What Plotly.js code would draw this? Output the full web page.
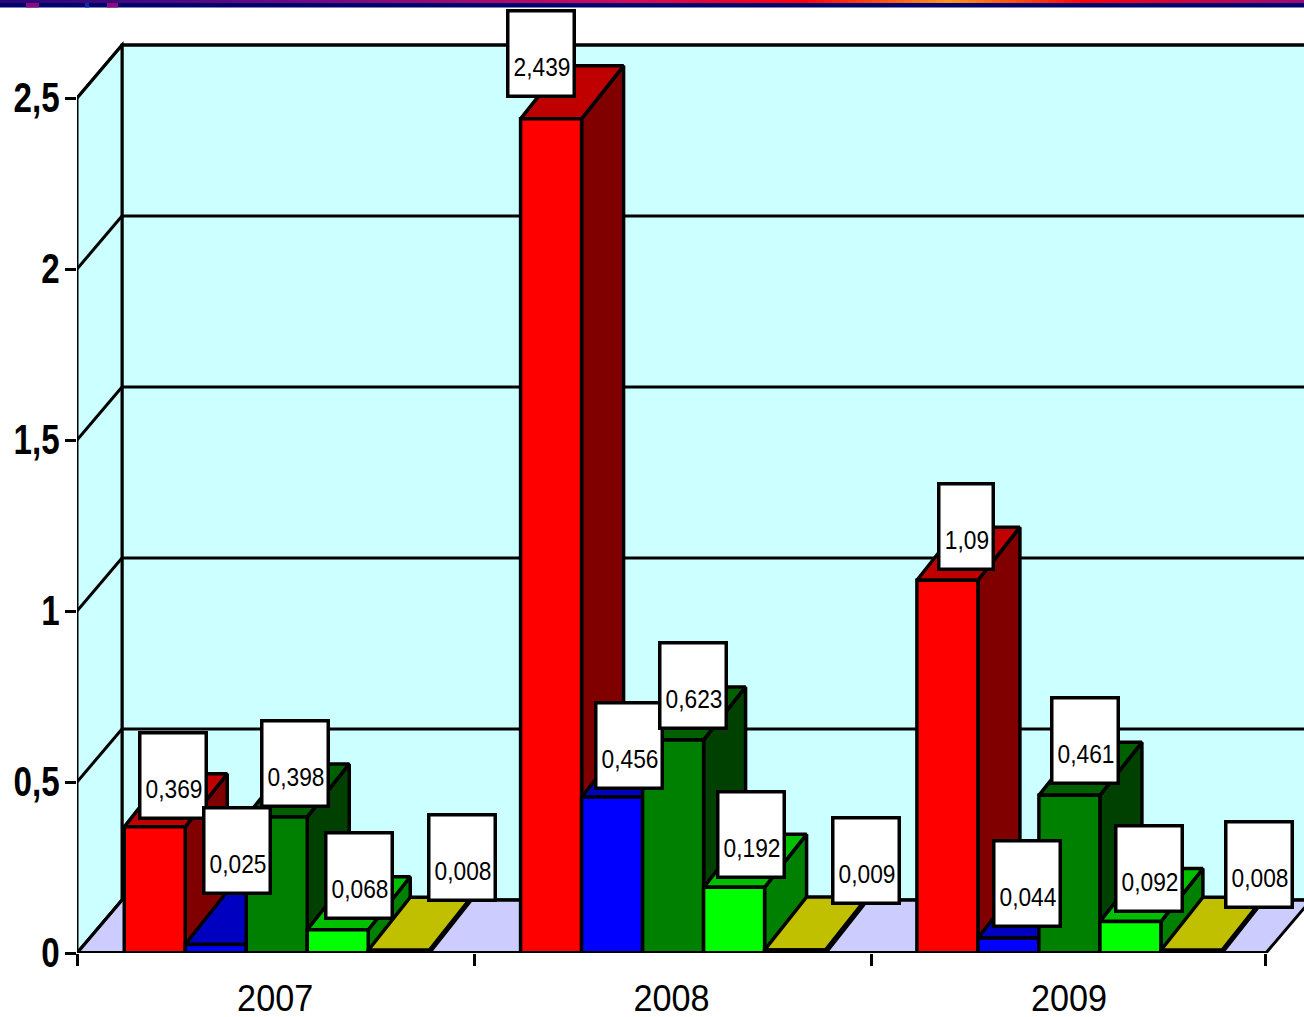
<!DOCTYPE html>
<html>
<head>
<meta charset="utf-8">
<script src="https://cdn.plot.ly/plotly-3.0.1.min.js"></script>
<style>
html, body { margin: 0; padding: 0; background: #fff; overflow: hidden; }
#chart { width: 1304px; height: 1017px; }
</style>
</head>
<body>
<div id="chart"></div>
<script>
// Yearly values, one list per bar colour
const years = ['2007', '2008', '2009'];
const redValues = [0.369, 2.439, 1.09];
const blueValues = [0.025, 0.456, 0.044];
const greenValues = [0.398, 0.623, 0.461];
const limeValues = [0.068, 0.192, 0.092];
const oliveValues = [0.008, 0.009, 0.008];
const yTicks = [0, 0.5, 1, 1.5, 2, 2.5];

// Pixel nudges of each value box from its bar top (hand placed boxes)
const boxShiftX = [[18, -10, 19], [21, 17, 19], [18, 20, 16], [21, 17, 19], [63, 71, 68]];
const boxShiftY = [[7, 21, 9], [49, 7, 10], [9, 10, 10], [10, 8, 9], [48, 45, 41]];

const W = 1304, H = 1017;
const plotLeft = 77, plotBottom = 953;
const pxPerYear = 396.33, pxPerUnit = 342;
const xMax = (W - plotLeft) / pxPerYear;
const yMax = plotBottom / pxPerUnit;

// Oblique projection of the box: room depth and bar depth in axis units
const roomDX = 45 / pxPerYear, roomDY = 53 / pxPerUnit;
const barDX = 42 / pxPerYear, barDY = 53 / pxPerUnit;
const barW = 61 / pxPerYear;
const groupShift = 0.004;
const yTop = 2.5, nYears = years.length;

const series = [
  { v: redValues, front: '#ff0000', top: '#c00000', side: '#800000' },
  { v: blueValues, front: '#0000ff', top: '#0000c0', side: '#000080' },
  { v: greenValues, front: '#008000', top: '#006000', side: '#004000' },
  { v: limeValues, front: '#00ff00', top: '#00c000', side: '#008000' },
  { v: oliveValues, front: '#ffff00', top: '#c0c000', side: '#808000' }
];
const centers = years.map((_, i) => i + 0.5 + groupShift);
const ink = '#000000';
const edge = 3.5;

// Side and top faces, painted left to right so nearer bars cover farther ones
function facePoly(points, x, y) {
  points.forEach(p => { x.push(p[0]); y.push(p[1]); });
  x.push(points[0][0], null);
  y.push(points[0][1], null);
}
const traces = [];
series.forEach((s, j) => {
  const sx = [], sy = [], tx = [], ty = [];
  s.v.forEach((val, i) => {
    const l = centers[i] + (j - 2.5) * barW, r = l + barW;
    facePoly([[r, 0], [r + barDX, barDY], [r + barDX, val + barDY], [r, val]], sx, sy);
    facePoly([[l, val], [r, val], [r + barDX, val + barDY], [l + barDX, val + barDY]], tx, ty);
  });
  [[sx, sy, s.side], [tx, ty, s.top]].forEach(f => traces.push({
    type: 'scatter', mode: 'lines', x: f[0], y: f[1], fill: 'toself', fillcolor: f[2],
    line: { color: ink, width: edge }, hoverinfo: 'skip', showlegend: false
  }));
});

// Front faces sit on an overlaid subplot, above every side and top face
series.forEach(s => traces.push({
  type: 'bar', x: centers, y: s.v, xaxis: 'x2', yaxis: 'y2',
  marker: { color: s.front, line: { color: ink, width: edge } },
  hoverinfo: 'skip', showlegend: false
}));

// Room: back wall, left wall, floor and the grid lines
const shapes = [];
const poly = (pts, fill) => ({
  type: 'path', xref: 'x', yref: 'y', layer: 'below',
  path: 'M' + pts.map(p => p[0] + ',' + p[1]).join('L') + 'Z',
  fillcolor: fill, line: { color: ink, width: 3 }
});
const seg = (x0, y0, x1, y1, layer, width) => ({
  type: 'line', xref: 'x', yref: 'y', layer: layer, x0, y0, x1, y1,
  line: { color: ink, width: width }
});
shapes.push(poly([[roomDX, roomDY], [nYears + roomDX, roomDY], [nYears + roomDX, yTop + roomDY], [roomDX, yTop + roomDY]], '#ccffff'));
shapes.push(poly([[0, 0], [roomDX, roomDY], [roomDX, yTop + roomDY], [0, yTop]], '#ccffff'));
shapes.push(poly([[0, 0], [nYears, 0], [nYears + roomDX, roomDY], [roomDX, roomDY]], '#ccccff'));
yTicks.forEach(t => {
  shapes.push(seg(roomDX, t + roomDY, nYears + roomDX, t + roomDY, 'below', 3));
  shapes.push(seg(0, t, roomDX, t + roomDY, 'below', 3));
});
shapes.push(seg(0, 0, nYears, 0, 'above', 4));

// Banner remains along the top edge of the page
const stops = [[0, [40, 8, 120]], [300, [110, 10, 130]], [620, [210, 10, 90]], [800, [255, 0, 10]],
               [945, [250, 150, 30]], [1080, [255, 0, 10]], [1304, [150, 10, 120]]];
const paperX = px => px / W, paperY = py => 1 - py / H;
const band = (x0, x1, y0, y1, color) => ({
  type: 'rect', xref: 'paper', yref: 'paper', layer: 'above',
  x0: paperX(x0), x1: paperX(x1), y0: paperY(y1), y1: paperY(y0),
  fillcolor: color, line: { width: 0 }
});
shapes.push(band(0, W, 3, 7.5, '#00006e'));
for (let px = 0; px < W; px += 8) {
  let k = 0;
  while (k < stops.length - 2 && stops[k + 1][0] <= px) k++;
  const a = stops[k], b = stops[k + 1], f = (px - a[0]) / (b[0] - a[0]);
  const c = a[1].map((ch, n) => Math.round(ch + (b[1][n] - ch) * f));
  shapes.push(band(px, px + 8, 0, 3, 'rgb(' + c.join(',') + ')'));
}
shapes.push(band(26, 39, 3, 7.5, '#8a0a80'), band(107, 118, 3, 7.5, '#8a0a80'), band(85, 89, 3, 7.5, '#0030b0'));

// Value boxes, with an empty first line so the number sits low in the box
const annotations = [];
years.forEach((_, i) => series.forEach((s, j) => {
  const text = String(s.v[i]).replace('.', ',');
  annotations.push({
    x: centers[i] + (j - 2) * barW, y: s.v[i], xref: 'x', yref: 'y',
    xanchor: 'center', yanchor: 'bottom',
    xshift: boxShiftX[j][i], yshift: boxShiftY[j][i],
    text: '&nbsp;<br>' + text, showarrow: false,
    width: text.length * 12 + 3, height: 82, borderpad: 0, borderwidth: edge,
    bordercolor: ink, bgcolor: '#ffffff', align: 'center', valign: 'middle',
    font: { family: 'Liberation Sans, Arial, sans-serif', size: 25, color: ink }
  });
}));

const layout = {
  width: W, height: H,
  margin: { l: 0, r: 0, t: 0, b: 0 },
  paper_bgcolor: '#ffffff', plot_bgcolor: 'rgba(0,0,0,0)',
  separators: ', ', showlegend: false,
  barmode: 'group', bargap: 1 - 5 * barW, bargroupgap: 0,
  xaxis: {
    domain: [plotLeft / W, 1], range: [0, xMax], anchor: 'y', showgrid: false, zeroline: false,
    tickmode: 'array', tickvals: [0.5, 1.5, 2.503], ticktext: years, ticks: '',
    ticklabelstandoff: 20,
    tickfont: { family: 'Liberation Sans, Arial, sans-serif', size: 37, color: ink },
    minor: { tickmode: 'array', tickvals: [0, 1.004, 2.004, 3], ticks: 'outside', ticklen: 12, tickwidth: 3, tickcolor: ink, showgrid: false }
  },
  yaxis: {
    domain: [(H - plotBottom) / H, 1], range: [0, yMax], anchor: 'x', showgrid: false, zeroline: false,
    tickmode: 'array', tickvals: yTicks, ticks: 'outside', ticklen: 11, tickwidth: 3, tickcolor: ink,
    tickformat: '.1~f',
    tickfont: { family: 'Liberation Sans, Arial, sans-serif', size: 42, color: ink, weight: 700 }
  },
  xaxis2: { domain: [plotLeft / W, 1], range: [0, xMax], overlaying: 'x', anchor: 'y2', visible: false },
  yaxis2: { domain: [(H - plotBottom) / H, 1], range: [0, yMax], overlaying: 'y', anchor: 'x2', visible: false },
  shapes, annotations
};

// The lettering is narrow: squeeze text horizontally about a chosen pivot, then nudge it
function squeeze(selector, sx, pivotRight, moveX, lift) {
  document.querySelectorAll(selector).forEach(el => {
    const b = el.getBBox();
    const px = pivotRight ? b.x + b.width : b.x + b.width / 2;
    const own = el.getAttribute('transform') || '';
    el.setAttribute('transform', own + ' translate(' + (px + moveX) + ',' + (b.y - lift) + ') scale(' + sx + ',1) translate(' + (-px) + ',' + (-b.y) + ')');
  });
}

Plotly.newPlot('chart', traces, layout, { displayModeBar: false, staticPlot: true }).then(() => {
  squeeze('.ytick text', 0.79, true, 3, 1);
  squeeze('.xtick text', 0.925, false, 0, 0);
  squeeze('.annotation-text-g text', 0.91, false, 1, 2.5);
});
</script>
</body>
</html>
